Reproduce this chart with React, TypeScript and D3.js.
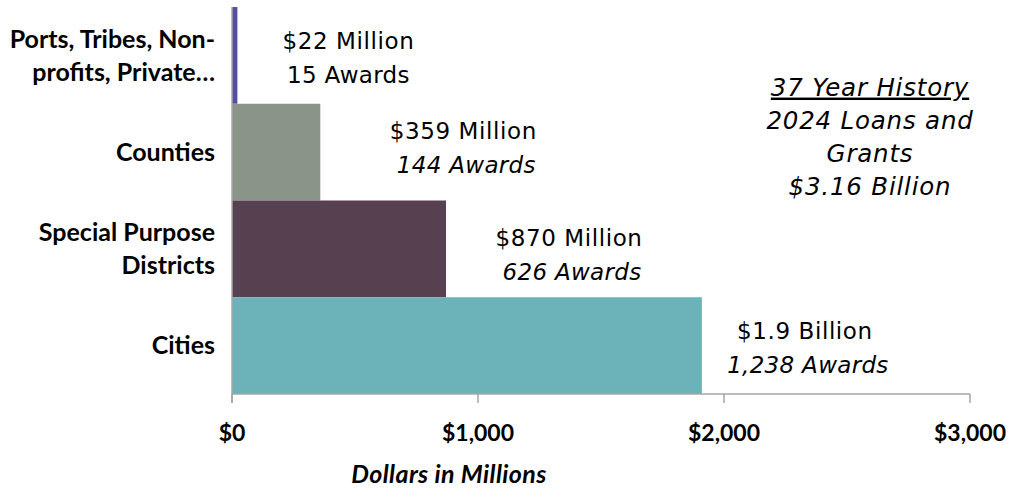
import React, { useEffect, useRef } from 'react';
import * as d3 from 'd3';

// categories from top to bottom
const categories = ['Ports', 'Counties', 'Special Purpose Districts', 'Cities'];
const categoryLines = [
  ['Ports, Tribes, Non-', 'profits, Private…'],
  ['Counties'],
  ['Special Purpose', 'Districts'],
  ['Cities'],
];
const amounts = [22, 359, 870, 1910];
const amountLabels = ['$22 Million', '$359 Million', '$870 Million', '$1.9 Billion'];
const awardLabels = ['15 Awards', '144 Awards', '626 Awards', '1,238 Awards'];
const awardItalic = [false, true, true, true];
const barColors = ['#584ea0', '#8a9489', '#574050', '#6bb3b8'];
const xTicks = [0, 1000, 2000, 3000];
const historyLines = ['37 Year History', '2024 Loans and', 'Grants', '$3.16 Billion'];

// label placement tweaks (px), matching the original slide
const labelDx = [111, 143, 123, 103];
const labelDy = [34, 27, 37, 34];

const App = () => {
  const svgRef = useRef<SVGSVGElement | null>(null);

  useEffect(() => {
    const svg = d3.select(svgRef.current);
    svg.selectAll('*').remove();

    const height = 489;
    const margin = { top: 7, left: 232, right: 40, bottom: 95 };

    const x = d3.scaleLinear().domain([0, 3000]).range([margin.left, 970]);
    const y = d3.scaleBand<string>()
      .domain(categories)
      .range([margin.top, height - margin.bottom])
      .padding(0);

    const labelFont = 'Lato, "Open Sans", sans-serif';
    const valueFont = '"DejaVu Sans", "Open Sans", sans-serif';

    // bars
    svg.append('g')
      .selectAll('rect')
      .data(categories)
      .enter()
      .append('rect')
      .attr('x', x(0))
      .attr('y', d => y(d)!)
      .attr('width', (d, i) => x(amounts[i]) - x(0))
      .attr('height', y.bandwidth())
      .attr('fill', (d, i) => barColors[i]);

    // axes
    const axisY = height - margin.bottom;
    const axis = svg.append('g');
    axis.append('line')
      .attr('x1', x(0)).attr('x2', x(3000))
      .attr('y1', axisY).attr('y2', axisY)
      .attr('stroke', '#a6a6a6').attr('stroke-width', 1.5);
    axis.append('line')
      .attr('x1', x(0)).attr('x2', x(0))
      .attr('y1', margin.top).attr('y2', axisY + 9)
      .attr('stroke', '#a6a6a6').attr('stroke-width', 1.5);
    axis.selectAll('.tick')
      .data(xTicks)
      .enter()
      .append('line')
      .attr('x1', d => x(d)).attr('x2', d => x(d))
      .attr('y1', axisY).attr('y2', axisY + 9)
      .attr('stroke', '#a6a6a6').attr('stroke-width', 1.5);
    axis.selectAll('.tickLabel')
      .data(xTicks)
      .enter()
      .append('text')
      .attr('x', d => x(d))
      .attr('y', axisY + 47)
      .attr('text-anchor', 'middle')
      .style('font-family', labelFont)
      .style('font-weight', 'bold')
      .style('font-size', '23px')
      .attr('fill', '#000')
      .text(d => '$' + d3.format(',')(d));

    svg.append('text')
      .attr('x', 449)
      .attr('y', 483)
      .attr('text-anchor', 'middle')
      .style('font-family', labelFont)
      .style('font-weight', 'bold')
      .style('font-style', 'italic')
      .style('font-size', '25px')
      .style('letter-spacing', '0.4px')
      .text('Dollars in Millions');

    // category labels
    categoryLines.forEach((lines, i) => {
      const cy = y(categories[i])! + y.bandwidth() / 2;
      const lh = 33;
      lines.forEach((line, j) => {
        svg.append('text')
          .attr('x', 215)
          .attr('y', cy + (j - (lines.length - 1) / 2) * lh)
          .attr('dy', '0.35em')
          .attr('text-anchor', 'end')
          .style('font-family', labelFont)
          .style('font-weight', 'bold')
          .style('font-size', '25px')
          .text(line);
      });
    });

    // value labels
    categories.forEach((c, i) => {
      const cx = x(amounts[i]) + labelDx[i];
      const top = y(c)! + labelDy[i];
      svg.append('text')
        .attr('x', cx)
        .attr('y', top)
        .attr('dy', '0.35em')
        .attr('text-anchor', 'middle')
        .style('font-family', valueFont)
        .style('font-size', '23px')
        .style('letter-spacing', '0.6px')
        .text(amountLabels[i]);
      svg.append('text')
        .attr('x', cx + (awardItalic[i] ? 3 : 0))
        .attr('y', top + 34)
        .attr('dy', '0.35em')
        .attr('text-anchor', 'middle')
        .style('font-family', valueFont)
        .style('font-style', awardItalic[i] ? 'italic' : 'normal')
        .style('font-size', '23px')
        .style('letter-spacing', '0.3px')
        .text(awardLabels[i]);
    });

    // history annotation
    historyLines.forEach((line, i) => {
      svg.append('text')
        .attr('x', 870)
        .attr('y', 87 + i * 33)
        .attr('dy', '0.35em')
        .attr('text-anchor', 'middle')
        .style('font-family', valueFont)
        .style('font-style', 'italic')
        .style('font-size', '24.5px')
        .style('letter-spacing', '0.8px')
        .style('text-decoration', i === 0 ? 'underline' : 'none')
        .text(line);
    });
  }, []);

  return (
    <svg
      ref={svgRef}
      width={1010}
      height={489}
      style={{ display: 'block', position: 'absolute', left: 0, top: 0, background: '#fff' }}
    />
  );
};

export default App;
